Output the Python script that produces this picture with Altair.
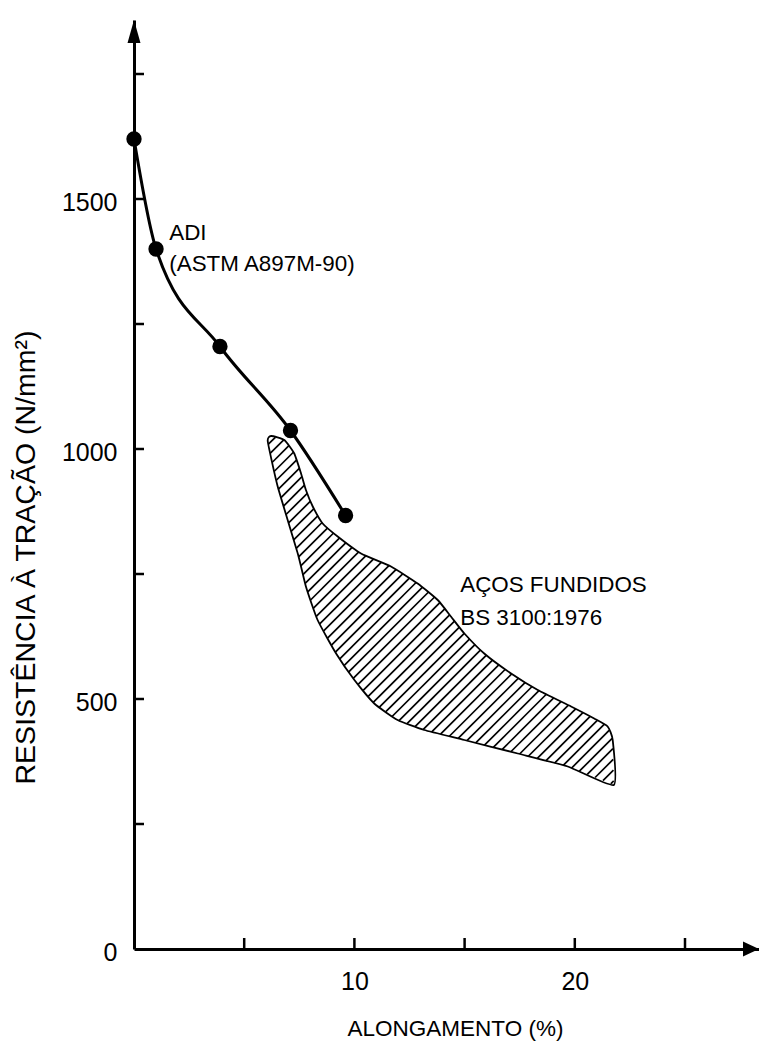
import altair as alt
import numpy as np
import pandas as pd

# ---------------- data ----------------
# ADI (ASTM A897M-90): elongation (%) vs tensile strength (N/mm2)
adi_elong = [0.0, 1.0, 3.9, 7.1, 9.6]
adi_strength = [1620, 1400, 1205, 1037, 867]

# Cast steels band (BS 3100:1976): upper and lower outline
steel_upper_elong = [6.22, 6.82, 7.27, 7.58, 7.80, 8.11, 8.56, 9.24, 10.30, 11.66,
                     12.87, 13.78, 14.38, 14.99, 15.89, 17.11, 18.32, 19.83, 20.88,
                     21.49, 21.72, 21.77]
steel_upper_strength = [1026, 1018, 991, 951, 918, 885, 851, 825, 791, 765,
                        731, 698, 665, 631, 591, 551, 518, 485, 461,
                        445, 418, 328]
steel_lower_elong = [6.07, 6.52, 7.43, 7.80, 8.33, 9.17, 10.0, 10.90, 11.96,
                     13.17, 14.99, 17.41, 19.68]
steel_lower_strength = [1015, 925, 791, 725, 658, 591, 538, 491, 458,
                        438, 418, 391, 365]

x_tick_values = [5, 10, 15, 20, 25]
x_label_values = [10, 20]
y_tick_values = [250, 500, 750, 1000, 1250, 1500, 1750]
y_label_values = [0, 500, 1000, 1500]

ann_text = ["ADI", "(ASTM A897M-90)", "AÇOS FUNDIDOS", "BS 3100:1976"]
ann_x = [1.6, 1.6, 14.8, 14.8]
ann_y = [1432, 1370, 728, 662]

# ---------------- layout ----------------
PX_PER_X = 22.04         # px per % elongation
PX_PER_Y = 0.5           # px per N/mm2
W, H = 625, 929          # plot area in px (whole canvas 751 x 1036)
XMAX = W / PX_PER_X
YMAX = H / PX_PER_Y
FONT = "Liberation Sans, Arial, Helvetica, sans-serif"
HATCH_STEP = 11.0        # horizontal distance between hatch lines, px

xs = alt.Scale(domain=[0, XMAX], nice=False, zero=False)
ys = alt.Scale(domain=[0, YMAX], nice=False, zero=False)

# ---------------- tables ----------------
adi_df = pd.DataFrame({"x": adi_elong, "y": adi_strength})

poly_x = steel_upper_elong + steel_lower_elong[::-1]
poly_y = steel_upper_strength + steel_lower_strength[::-1]
band_df = pd.DataFrame({"x": poly_x, "y": poly_y, "i": list(range(len(poly_x)))})

# 45-degree hatch ("/" lines) clipped to the band outline
P = np.column_stack([np.array(poly_x) * PX_PER_X, np.array(poly_y) * PX_PER_Y])
Q = np.roll(P, -1, axis=0)
g = P[:, 0] - P[:, 1]
segs = []
for c in np.arange(g.min() + HATCH_STEP / 2, g.max(), HATCH_STEP):
    g0, g1 = g - c, (Q[:, 0] - Q[:, 1]) - c
    hits = []
    for k in np.where(g0 * g1 < 0)[0]:
        t = g0[k] / (g0[k] - g1[k])
        hits.append(P[k] + t * (Q[k] - P[k]))
    hits.sort(key=lambda p: p[0])
    for a, b in zip(hits[0::2], hits[1::2]):
        segs.append((a[0] / PX_PER_X, a[1] / PX_PER_Y, b[0] / PX_PER_X, b[1] / PX_PER_Y))
hatch_df = pd.DataFrame(segs, columns=["x1", "y1", "x2", "y2"])

ann_df = pd.DataFrame({"x": ann_x, "y": ann_y, "t": ann_text})

x_axis = alt.Axis(values=x_label_values, ticks=False, grid=False,
                  domainColor="black", domainWidth=3,
                  labelFont=FONT, labelFontSize=25, labelColor="black",
                  labelPadding=20, labelFlush=False, format="d",
                  title="ALONGAMENTO (%)", titleFont=FONT, titleFontSize=22.5,
                  titleFontWeight="normal", titleColor="black",
                  titleX=321, titleY=79, titleBaseline="middle", titleAlign="center")
y_axis = alt.Axis(values=y_label_values, ticks=False, grid=False,
                  domainColor="black", domainWidth=3,
                  labelFont=FONT, labelFontSize=25, labelColor="black",
                  labelPadding=17, labelFlush=False, labelBaseline="middle",
                  labelOffset=3, format="d",
                  title="RESISTÊNCIA À TRAÇÃO (N/mm²)", titleFont=FONT,
                  titleFontSize=28.5, titleFontWeight="normal", titleColor="black",
                  titleAngle=270, titleX=-109, titleY=537,
                  titleBaseline="middle", titleAlign="center")

X = lambda f: alt.X(f, scale=xs, axis=x_axis)
Y = lambda f: alt.Y(f, scale=ys, axis=y_axis)

hatch = alt.Chart(hatch_df).mark_rule(color="black", strokeWidth=1.7).encode(
    x=X("x1:Q"), y=Y("y1:Q"), x2="x2:Q", y2="y2:Q")

band = alt.Chart(band_df).mark_line(
    interpolate="cardinal-closed", tension=0.5, stroke="black", strokeWidth=1.8
).encode(x=X("x:Q"), y=Y("y:Q"), order="i:Q")

adi_line = alt.Chart(adi_df).mark_line(
    color="black", strokeWidth=3, interpolate="monotone"
).encode(x=X("x:Q"), y=Y("y:Q"))

adi_pts = alt.Chart(adi_df).mark_circle(size=235, color="black", opacity=1).encode(
    x=X("x:Q"), y=Y("y:Q"))

labels = alt.Chart(ann_df).mark_text(
    align="left", baseline="middle", font=FONT, fontSize=22.4, color="black"
).encode(x=X("x:Q"), y=Y("y:Q"), text="t:N")

yticks = alt.Chart(pd.DataFrame({"v": y_tick_values})).mark_rule(
    color="black", strokeWidth=2.5
).encode(y=Y("v:Q"), x=alt.value(0), x2=alt.value(10))

xticks = alt.Chart(pd.DataFrame({"v": x_tick_values})).mark_rule(
    color="black", strokeWidth=2.5
).encode(x=X("v:Q"), y=alt.value(H), y2=alt.value(H - 11))

arrow_up = alt.Chart(pd.DataFrame({"x": [0], "y": [YMAX]})).mark_point(
    shape="M0,0 L0.5,1.77 L-0.5,1.77 Z", size=676, filled=True,
    color="black", opacity=1, strokeWidth=0
).encode(x=X("x:Q"), y=Y("y:Q"))

arrow_right = alt.Chart(pd.DataFrame({"x": [XMAX], "y": [0]})).mark_point(
    shape="M0,0 L-1.23,-0.58 L-1.23,0.58 Z", size=676, filled=True,
    color="black", opacity=1, strokeWidth=0
).encode(x=X("x:Q"), y=Y("y:Q"))

chart = alt.layer(
    hatch, band, adi_line, adi_pts, labels, yticks, xticks, arrow_up, arrow_right
).properties(
    width=W, height=H,
    autosize=alt.AutoSizeParams(type="none"),
    padding={"left": 126, "top": 12, "right": 0, "bottom": 95},
    background="white",
).configure_view(stroke=None)

chart.save("out.html", embed_options={"renderer": "svg", "actions": False})
